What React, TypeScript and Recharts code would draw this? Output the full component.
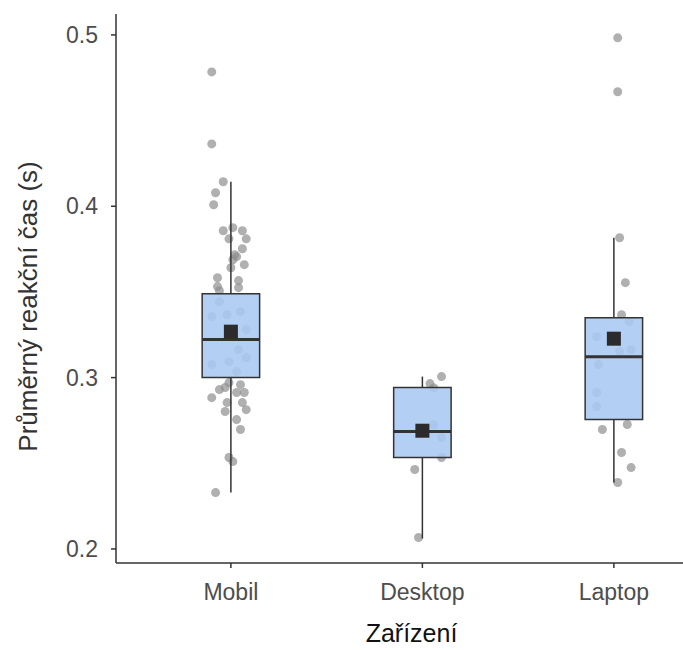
import {
  ComposedChart,
  Scatter,
  XAxis,
  YAxis,
  ReferenceArea,
  ReferenceLine,
} from 'recharts';

const devices = ['Mobil', 'Desktop', 'Laptop'];
const yTicks = [0.2, 0.3, 0.4, 0.5];

// box stats per device: q1, median, q3, whisker low, whisker high, mean
const q1 = [0.3, 0.2534, 0.2755];
const median = [0.3222, 0.2685, 0.3122];
const q3 = [0.349, 0.2942, 0.335];
const whiskerLow = [0.2329, 0.2061, 0.2388];
const whiskerHigh = [0.4143, 0.3006, 0.3816];
const means = [0.3268, 0.269, 0.3227];

// jittered observations (value, horizontal jitter)
const mobilValues = [
  0.4784, 0.4364, 0.4143, 0.4079, 0.4009, 0.3875, 0.3857, 0.3857, 0.381, 0.381,
  0.3752, 0.3717, 0.3706, 0.3688, 0.3659, 0.3641, 0.3583, 0.3566, 0.3531, 0.3525,
  0.3507, 0.3443, 0.3385, 0.3367, 0.3356, 0.328, 0.3163, 0.3117, 0.3093, 0.3076,
  0.3035, 0.2971, 0.2959, 0.2942, 0.293, 0.2913, 0.2913, 0.2883, 0.2854, 0.2854,
  0.2813, 0.2802, 0.2755, 0.2697, 0.2534, 0.251, 0.2329,
];
const mobilJitter = [
  -0.1, -0.1, -0.04, -0.08, -0.09, 0.01, -0.04, 0.06, -0.01, 0.08,
  0.06, 0.02, 0.03, 0.01, 0.07, 0.0, -0.07, 0.04, -0.07, 0.04,
  -0.06, -0.06, 0.05, -0.02, -0.1, 0.08, 0.04, 0.08, -0.01, -0.1,
  0.03, -0.01, 0.05, -0.03, -0.06, 0.03, 0.07, -0.1, -0.02, 0.06,
  0.08, -0.03, 0.03, 0.05, -0.01, 0.01, -0.08,
];
const desktopValues = [0.3006, 0.2965, 0.294, 0.2725, 0.265, 0.2534, 0.2464, 0.2067];
const desktopJitter = [0.1, 0.04, 0.06, 0.06, 0.1, 0.1, -0.04, -0.02];
const laptopValues = [
  0.4983, 0.4668, 0.3816, 0.3554, 0.3367, 0.3327, 0.3239, 0.3163, 0.3152, 0.3076,
  0.2913, 0.2831, 0.2726, 0.2697, 0.2563, 0.2475, 0.2388,
];
const laptopJitter = [
  0.02, 0.02, 0.03, 0.06, 0.04, 0.08, -0.09, 0.09, 0.03, -0.08,
  -0.09, -0.09, 0.07, -0.06, 0.04, 0.09, 0.02,
];

const groups = [
  { values: mobilValues, jitter: mobilJitter },
  { values: desktopValues, jitter: desktopJitter },
  { values: laptopValues, jitter: laptopJitter },
];

const points = groups.flatMap((g, i) =>
  g.values.map((v, j) => ({ x: i + 1 + g.jitter[j], y: v }))
);
const meanPoints = means.map((m, i) => ({ x: i + 1, y: m }));

const X_DOMAIN: [number, number] = [0.4, 3.361];
const Y_DOMAIN: [number, number] = [0.1918, 0.5122];
const BOX_HALF = 0.15;
const INK = '#333333';
const FONT = '"Liberation Sans", Arial, sans-serif';
const W = 683;
const H = 650;

const MeanSquare = (props: any) => {
  const { cx, cy } = props;
  return <rect x={cx - 7} y={cy - 7} width={14} height={14} fill="#2b2b2b" />;
};

const Dot = (props: any) => (
  <circle cx={props.cx} cy={props.cy} r={4.5} fill="#8f8f8f" fillOpacity={0.7} />
);

// bottom layer: axes + jittered points
function PointsLayer() {
  return (
    <ComposedChart width={W} height={H} margin={{ top: 14, right: 0, bottom: 0, left: 0 }}>
      <XAxis
        type="number"
        dataKey="x"
        domain={X_DOMAIN}
        allowDataOverflow
        ticks={[1, 2, 3]}
        tickFormatter={(v: number) => devices[Math.round(v) - 1]}
        height={87}
        tickSize={5}
        tickMargin={16}
        stroke={INK}
        strokeWidth={1.5}
        tick={{ fill: '#4d4d4d', fontSize: 23, fontFamily: FONT }}
        label={{
          value: 'Zařízení',
          position: 'center',
          dx: 12,
          dy: 27,
          style: { fill: '#111', fontSize: 25, fontFamily: FONT },
        }}
      />
      <YAxis
        type="number"
        dataKey="y"
        domain={Y_DOMAIN}
        allowDataOverflow
        ticks={yTicks}
        tickFormatter={(v: number) => v.toFixed(1)}
        width={116}
        tickSize={5}
        tickMargin={13}
        stroke={INK}
        strokeWidth={1.5}
        tick={{ fill: '#4d4d4d', fontSize: 23, fontFamily: FONT }}
        label={{
          value: 'Průměrný reakční čas (s)',
          angle: -90,
          position: 'center',
          dx: -30,
          dy: 18,
          style: { fill: '#333', fontSize: 26, fontFamily: FONT, textAnchor: 'middle' },
        }}
      />
      <Scatter data={points} shape={Dot} isAnimationActive={false} />
    </ComposedChart>
  );
}

// top layer: boxes, whiskers, medians, means over the points
function BoxLayer() {
  return (
    <ComposedChart width={W} height={H} margin={{ top: 14, right: 0, bottom: 87, left: 116 }}>
      <XAxis type="number" dataKey="x" domain={X_DOMAIN} allowDataOverflow hide />
      <YAxis type="number" dataKey="y" domain={Y_DOMAIN} allowDataOverflow hide />
      {devices.map((d, i) => (
        <ReferenceLine
          key={'wl' + d}
          segment={[{ x: i + 1, y: whiskerLow[i] }, { x: i + 1, y: q1[i] }]}
          stroke={INK}
          strokeWidth={1.5}
        />
      ))}
      {devices.map((d, i) => (
        <ReferenceLine
          key={'wh' + d}
          segment={[{ x: i + 1, y: q3[i] }, { x: i + 1, y: whiskerHigh[i] }]}
          stroke={INK}
          strokeWidth={1.5}
        />
      ))}
      {devices.map((d, i) => (
        <ReferenceArea
          key={'box' + d}
          x1={i + 1 - BOX_HALF}
          x2={i + 1 + BOX_HALF}
          y1={q1[i]}
          y2={q3[i]}
          fill="#a9c8f1"
          fillOpacity={0.88}
          stroke={INK}
          strokeWidth={1.5}
        />
      ))}
      {devices.map((d, i) => (
        <ReferenceLine
          key={'med' + d}
          segment={[
            { x: i + 1 - BOX_HALF, y: median[i] },
            { x: i + 1 + BOX_HALF, y: median[i] },
          ]}
          stroke={INK}
          strokeWidth={3}
        />
      ))}
      <Scatter data={meanPoints} shape={MeanSquare} isAnimationActive={false} />
    </ComposedChart>
  );
}

export default function App() {
  return (
    <div style={{ position: 'absolute', left: 0, top: 0, width: W, height: H, fontFamily: FONT }}>
      <div style={{ position: 'absolute', left: 0, top: 0 }}>
        <PointsLayer />
      </div>
      <div style={{ position: 'absolute', left: 0, top: 0 }}>
        <BoxLayer />
      </div>
    </div>
  );
}
